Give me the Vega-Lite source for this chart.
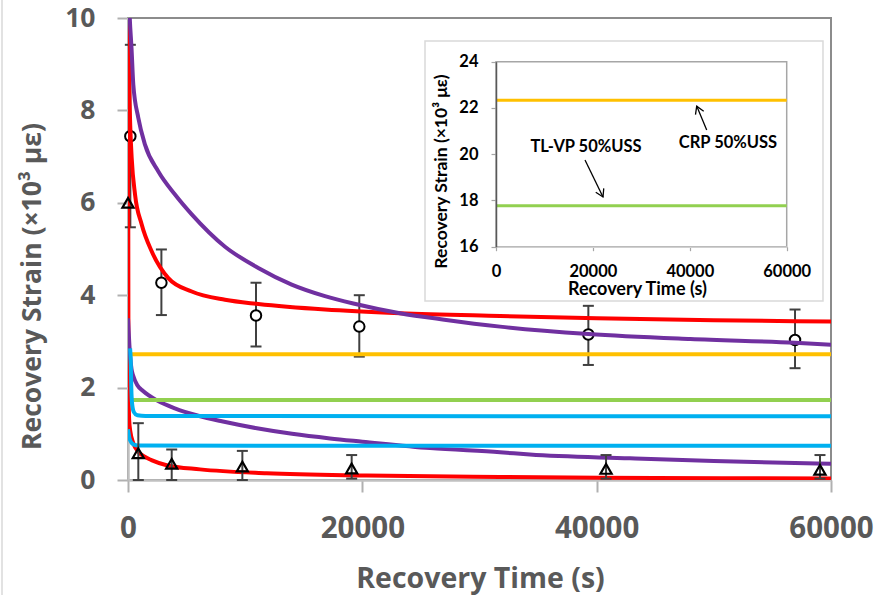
{
  "$schema": "https://vega.github.io/schema/vega-lite/v6.json",
  "width": 703,
  "height": 462,
  "autosize": "none",
  "padding": {"left": 128, "top": 18, "right": 60, "bottom": 115},
  "background": "white",
  "config": {
    "view": {"stroke": "#8c8c8c", "strokeWidth": 2},
    "font": "Open Sans"
  },
  "datasets": {
    "curves": [
      {"series": "Fit A (circles)", "t": 0, "v": 10.6},
      {"series": "Fit A (circles)", "t": 100, "v": 8.6},
      {"series": "Fit A (circles)", "t": 200, "v": 7.6},
      {"series": "Fit A (circles)", "t": 315, "v": 6.97},
      {"series": "Fit A (circles)", "t": 600, "v": 6.18},
      {"series": "Fit A (circles)", "t": 1170, "v": 5.53},
      {"series": "Fit A (circles)", "t": 2020, "v": 4.95},
      {"series": "Fit A (circles)", "t": 3440, "v": 4.37},
      {"series": "Fit A (circles)", "t": 5440, "v": 4.08},
      {"series": "Fit A (circles)", "t": 8280, "v": 3.9},
      {"series": "Fit A (circles)", "t": 11120, "v": 3.81},
      {"series": "Fit A (circles)", "t": 16810, "v": 3.69},
      {"series": "Fit A (circles)", "t": 23210, "v": 3.61},
      {"series": "Fit A (circles)", "t": 31760, "v": 3.55},
      {"series": "Fit A (circles)", "t": 40000, "v": 3.5},
      {"series": "Fit A (circles)", "t": 50000, "v": 3.46},
      {"series": "Fit A (circles)", "t": 60000, "v": 3.43},

      {"series": "Fit A (triangles)", "t": 0, "v": 10.6},
      {"series": "Fit A (triangles)", "t": 40, "v": 2.0},
      {"series": "Fit A (triangles)", "t": 100, "v": 1.3},
      {"series": "Fit A (triangles)", "t": 200, "v": 1.05},
      {"series": "Fit A (triangles)", "t": 450, "v": 0.8},
      {"series": "Fit A (triangles)", "t": 880, "v": 0.61},
      {"series": "Fit A (triangles)", "t": 1310, "v": 0.52},
      {"series": "Fit A (triangles)", "t": 2000, "v": 0.43},
      {"series": "Fit A (triangles)", "t": 3300, "v": 0.32},
      {"series": "Fit A (triangles)", "t": 6145, "v": 0.23},
      {"series": "Fit A (triangles)", "t": 11840, "v": 0.145},
      {"series": "Fit A (triangles)", "t": 20370, "v": 0.095},
      {"series": "Fit A (triangles)", "t": 31760, "v": 0.065},
      {"series": "Fit A (triangles)", "t": 45000, "v": 0.045},
      {"series": "Fit A (triangles)", "t": 60000, "v": 0.03},

      {"series": "Fit B (circles)", "t": 60, "v": 10.6},
      {"series": "Fit B (circles)", "t": 150, "v": 10.0},
      {"series": "Fit B (circles)", "t": 300, "v": 9.35},
      {"series": "Fit B (circles)", "t": 453, "v": 8.56},
      {"series": "Fit B (circles)", "t": 880, "v": 7.84},
      {"series": "Fit B (circles)", "t": 1450, "v": 7.26},
      {"series": "Fit B (circles)", "t": 2590, "v": 6.68},
      {"series": "Fit B (circles)", "t": 4010, "v": 6.18},
      {"series": "Fit B (circles)", "t": 5440, "v": 5.75},
      {"series": "Fit B (circles)", "t": 8280, "v": 5.05},
      {"series": "Fit B (circles)", "t": 11120, "v": 4.59},
      {"series": "Fit B (circles)", "t": 13970, "v": 4.23},
      {"series": "Fit B (circles)", "t": 16810, "v": 3.98},
      {"series": "Fit B (circles)", "t": 19230, "v": 3.82},
      {"series": "Fit B (circles)", "t": 23210, "v": 3.61},
      {"series": "Fit B (circles)", "t": 27000, "v": 3.47},
      {"series": "Fit B (circles)", "t": 31760, "v": 3.32},
      {"series": "Fit B (circles)", "t": 39290, "v": 3.16},
      {"series": "Fit B (circles)", "t": 48000, "v": 3.05},
      {"series": "Fit B (circles)", "t": 56930, "v": 2.97},
      {"series": "Fit B (circles)", "t": 60000, "v": 2.93},

      {"series": "Fit B (triangles)", "t": 0, "v": 3.5},
      {"series": "Fit B (triangles)", "t": 150, "v": 2.8},
      {"series": "Fit B (triangles)", "t": 300, "v": 2.4},
      {"series": "Fit B (triangles)", "t": 453, "v": 2.25},
      {"series": "Fit B (triangles)", "t": 800, "v": 2.05},
      {"series": "Fit B (triangles)", "t": 1310, "v": 1.92},
      {"series": "Fit B (triangles)", "t": 2500, "v": 1.72},
      {"series": "Fit B (triangles)", "t": 4000, "v": 1.55},
      {"series": "Fit B (triangles)", "t": 6000, "v": 1.39},
      {"series": "Fit B (triangles)", "t": 8000, "v": 1.27},
      {"series": "Fit B (triangles)", "t": 11000, "v": 1.12},
      {"series": "Fit B (triangles)", "t": 14000, "v": 1.0},
      {"series": "Fit B (triangles)", "t": 17240, "v": 0.9},
      {"series": "Fit B (triangles)", "t": 20000, "v": 0.83},
      {"series": "Fit B (triangles)", "t": 25780, "v": 0.69},
      {"series": "Fit B (triangles)", "t": 31760, "v": 0.6},
      {"series": "Fit B (triangles)", "t": 34300, "v": 0.55},
      {"series": "Fit B (triangles)", "t": 42850, "v": 0.47},
      {"series": "Fit B (triangles)", "t": 50000, "v": 0.41},
      {"series": "Fit B (triangles)", "t": 60000, "v": 0.35},

      {"series": "CRP 50%USS", "t": 250, "v": 2.72},
      {"series": "CRP 50%USS", "t": 60000, "v": 2.72},

      {"series": "TL-VP 50%USS", "t": 300, "v": 1.73},
      {"series": "TL-VP 50%USS", "t": 60000, "v": 1.73},

      {"series": "Fit C (upper)", "t": 180, "v": 2.85},
      {"series": "Fit C (upper)", "t": 230, "v": 2.6},
      {"series": "Fit C (upper)", "t": 280, "v": 2.0},
      {"series": "Fit C (upper)", "t": 350, "v": 1.65},
      {"series": "Fit C (upper)", "t": 500, "v": 1.47},
      {"series": "Fit C (upper)", "t": 800, "v": 1.4},
      {"series": "Fit C (upper)", "t": 1500, "v": 1.385},
      {"series": "Fit C (upper)", "t": 60000, "v": 1.38},

      {"series": "Fit C (lower)", "t": 0, "v": 1.1},
      {"series": "Fit C (lower)", "t": 150, "v": 0.88},
      {"series": "Fit C (lower)", "t": 450, "v": 0.77},
      {"series": "Fit C (lower)", "t": 900, "v": 0.745},
      {"series": "Fit C (lower)", "t": 60000, "v": 0.74}
    ],
    "circles": [
      {"t": 200, "v": 7.44, "lo": 5.47, "hi": 9.42},
      {"t": 2850, "v": 4.27, "lo": 3.57, "hi": 4.99},
      {"t": 10925, "v": 3.56, "lo": 2.89, "hi": 4.27},
      {"t": 19740, "v": 3.32, "lo": 2.67, "hi": 4.0},
      {"t": 39290, "v": 3.15, "lo": 2.49, "hi": 3.77},
      {"t": 56930, "v": 3.03, "lo": 2.42, "hi": 3.69}
    ],
    "triangles": [
      {"t": 0, "v": 6.0, "lo": null, "hi": null},
      {"t": 880, "v": 0.58, "lo": 0.0, "hi": 1.23},
      {"t": 3730, "v": 0.35, "lo": 0.0, "hi": 0.66},
      {"t": 9760, "v": 0.29, "lo": 0.0, "hi": 0.63},
      {"t": 19090, "v": 0.25, "lo": 0.03, "hi": 0.54},
      {"t": 40800, "v": 0.24, "lo": 0.03, "hi": 0.54},
      {"t": 59060, "v": 0.22, "lo": 0.03, "hi": 0.54}
    ],
    "inset_lines": [
      {"series": "CRP 50%USS", "t": 0, "v": 22.33},
      {"series": "CRP 50%USS", "t": 60000, "v": 22.33},
      {"series": "TL-VP 50%USS", "t": 0, "v": 17.77},
      {"series": "TL-VP 50%USS", "t": 60000, "v": 17.77}
    ],
    "inset_box": [{"t": -14655, "t2": 67490, "v": 13.65, "v2": 24.9}],
    "inset_frame": [{"t": 0, "t2": 60000, "v": 16, "v2": 24}],
    "inset_labels": [
      {"label": "TL-VP 50%USS", "t": 18576, "v": 20.29},
      {"label": "CRP 50%USS", "t": 47885, "v": 20.48}
    ],
    "arrow_tlvp": [{"t": 18370, "v": 19.75, "t2": 22085, "v2": 18.15}],
    "arrow_crp": [{"t": 43488, "v": 21.05, "t2": 41424, "v2": 22.08}],
    "outer_border": [{"t": -10754, "v": -2.6, "v2": 10.5}]
  },
  "layer": [
    {
      "encoding": {
        "x": {
          "field": "t", "type": "quantitative",
          "scale": {"domain": [0, 60000], "nice": false},
          "axis": {
            "orient": "bottom", "values": [0, 20000, 40000, 60000], "format": "d",
            "title": "Recovery Time (s)", "grid": false,
            "domainColor": "#c0c0c0", "domainWidth": 2.5,
            "tickColor": "#b0b0b0", "tickWidth": 2, "tickSize": 12,
            "labelFont": "Open Sans", "labelFontWeight": "bold", "labelFontSize": 29.5,
            "labelColor": "#595959", "labelBaseline": "alphabetic", "labelPadding": 45,
            "labelFlush": false, "labelOverlap": false,
            "titleFont": "Open Sans", "titleFontWeight": "bold", "titleFontSize": 28.5,
            "titleColor": "#595959", "titleX": 352, "titleY": 107.5,
            "titleBaseline": "alphabetic", "titleAlign": "center"
          }
        },
        "y": {
          "field": "v", "type": "quantitative",
          "scale": {"domain": [0, 10], "nice": false},
          "axis": {
            "orient": "left", "values": [0, 2, 4, 6, 8, 10],
            "title": "Recovery Strain (×10³ με)", "grid": false,
            "domainColor": "#c0c0c0", "domainWidth": 2.5,
            "tickColor": "#b0b0b0", "tickWidth": 2, "tickSize": 11,
            "labelFont": "Open Sans", "labelFontWeight": "bold", "labelFontSize": 26.5,
            "labelColor": "#595959", "labelPadding": 22, "labelFlush": false,
            "titleFont": "Open Sans", "titleFontWeight": "bold", "titleFontSize": 26.5,
            "titleColor": "#595959", "titleX": -96, "titleY": 268,
            "titleBaseline": "middle", "titleAlign": "center", "titleAngle": 270
          }
        }
      },
      "layer": [
        {
          "data": {"name": "circles"},
          "mark": {"type": "rule", "color": "#404040", "strokeWidth": 2, "clip": true},
          "encoding": {
            "y": {"field": "lo", "type": "quantitative"},
            "y2": {"field": "hi"}
          }
        },
        {
          "data": {"name": "circles"},
          "mark": {"type": "tick", "orient": "horizontal", "size": 11, "thickness": 2, "color": "#404040", "opacity": 1},
          "encoding": {"y": {"field": "lo", "type": "quantitative"}}
        },
        {
          "data": {"name": "circles"},
          "mark": {"type": "tick", "orient": "horizontal", "size": 11, "thickness": 2, "color": "#404040", "opacity": 1},
          "encoding": {"y": {"field": "hi", "type": "quantitative"}}
        },
        {
          "data": {"name": "circles"},
          "mark": {"type": "point", "shape": "circle", "size": 110, "filled": true, "fill": "white", "stroke": "black", "strokeWidth": 2, "opacity": 1}
        },
        {
          "data": {"name": "curves"},
          "mark": {"type": "line", "clip": true, "strokeWidth": 4, "interpolate": "monotone"},
          "encoding": {
            "color": {
              "field": "series", "type": "nominal", "legend": null,
              "scale": {
                "domain": ["Fit A (circles)", "Fit A (triangles)", "Fit B (circles)", "Fit B (triangles)", "CRP 50%USS", "TL-VP 50%USS", "Fit C (upper)", "Fit C (lower)"],
                "range": ["#ff0000", "#ff0000", "#7030a0", "#7030a0", "#ffc000", "#92d050", "#00b0f0", "#00b0f0"]
              }
            },
            "detail": {"field": "series"},
            "order": {"field": "t", "type": "quantitative"}
          }
        },
        {
          "data": {"name": "triangles"},
          "transform": [{"filter": {"field": "hi", "valid": true}}],
          "mark": {"type": "rule", "color": "#404040", "strokeWidth": 2},
          "encoding": {
            "y": {"field": "lo", "type": "quantitative"},
            "y2": {"field": "hi"}
          }
        },
        {
          "data": {"name": "triangles"},
          "transform": [{"filter": {"field": "hi", "valid": true}}],
          "mark": {"type": "tick", "orient": "horizontal", "size": 11, "thickness": 2, "color": "#404040", "opacity": 1},
          "encoding": {"y": {"field": "lo", "type": "quantitative"}}
        },
        {
          "data": {"name": "triangles"},
          "transform": [{"filter": {"field": "hi", "valid": true}}],
          "mark": {"type": "tick", "orient": "horizontal", "size": 11, "thickness": 2, "color": "#404040", "opacity": 1},
          "encoding": {"y": {"field": "hi", "type": "quantitative"}}
        },
        {
          "data": {"name": "triangles"},
          "mark": {"type": "point", "shape": "triangle-up", "size": 125, "filled": false, "stroke": "black", "strokeWidth": 2.2, "opacity": 1}
        },
        {
          "data": {"name": "outer_border"},
          "mark": {"type": "rule", "color": "#d9d9d9", "strokeWidth": 1.5, "clip": false},
          "encoding": {"y2": {"field": "v2"}}
        }
      ]
    },
    {
      "encoding": {
        "x": {
          "field": "t", "type": "quantitative",
          "scale": {"domain": [0, 60000], "range": [368, 658.7], "nice": false},
          "axis": {
            "orient": "bottom", "offset": -233.3, "zindex": 1,
            "values": [0, 20000, 40000, 60000], "format": "d",
            "title": "Recovery Time (s)", "grid": false,
            "domainColor": "#d0d0d0", "domainWidth": 1.5,
            "tickColor": "#a6a6a6", "tickWidth": 1.2, "tickSize": 4,
            "labelFont": "Lato", "labelFontWeight": "bold", "labelFontSize": 16.5,
            "labelColor": "#000000", "labelBaseline": "alphabetic", "labelPadding": 25.5,
            "labelFlush": false, "labelOverlap": false,
            "titleFont": "Lato", "titleFontWeight": "bold", "titleFontSize": 18,
            "titleColor": "#000000", "titleX": 509, "titleY": 48,
            "titleBaseline": "alphabetic", "titleAlign": "center"
          }
        },
        "y": {
          "field": "v", "type": "quantitative",
          "scale": {"domain": [16, 24], "range": [228.7, 43.7], "nice": false, "zero": false},
          "axis": {
            "orient": "left", "offset": -368, "zindex": 1,
            "values": [16, 18, 20, 22, 24],
            "title": "Recovery Strain (×10³ με)", "grid": false,
            "domainColor": "#595959", "domainWidth": 1.5,
            "tickColor": "#a6a6a6", "tickWidth": 1.2, "tickSize": 5,
            "labelFont": "Lato", "labelFontWeight": "bold", "labelFontSize": 16.5,
            "labelColor": "#000000", "labelPadding": 13, "labelFlush": false,
            "titleFont": "Lato", "titleFontWeight": "bold", "titleFontSize": 17.5,
            "titleColor": "#000000", "titleX": -54.3, "titleY": 153,
            "titleBaseline": "middle", "titleAlign": "center", "titleAngle": 270
          }
        }
      },
      "layer": [
        {
          "data": {"name": "inset_box"},
          "mark": {"type": "rect", "fill": "white", "stroke": "#d9d9d9", "strokeWidth": 1.5},
          "encoding": {"x2": {"field": "t2"}, "y2": {"field": "v2"}}
        },
        {
          "data": {"name": "inset_frame"},
          "mark": {"type": "rect", "fill": null, "fillOpacity": 0, "stroke": "#a6a6a6", "strokeWidth": 1.5},
          "encoding": {"x2": {"field": "t2"}, "y2": {"field": "v2"}}
        },
        {
          "data": {"name": "inset_lines"},
          "mark": {"type": "line", "strokeWidth": 3},
          "encoding": {
            "color": {
              "field": "series", "type": "nominal", "legend": null,
              "scale": {"domain": ["CRP 50%USS", "TL-VP 50%USS"], "range": ["#ffc000", "#92d050"]}
            }
          }
        },
        {
          "data": {"name": "inset_labels"},
          "mark": {"type": "text", "font": "Lato", "fontWeight": "bold", "fontSize": 16.5, "color": "#000000", "align": "center", "baseline": "middle"},
          "encoding": {"text": {"field": "label"}}
        },
        {
          "data": {"name": "arrow_tlvp"},
          "mark": {"type": "rule", "color": "#000000", "strokeWidth": 1.3},
          "encoding": {"x2": {"field": "t2"}, "y2": {"field": "v2"}}
        },
        {
          "data": {"name": "arrow_crp"},
          "mark": {"type": "rule", "color": "#000000", "strokeWidth": 1.3},
          "encoding": {"x2": {"field": "t2"}, "y2": {"field": "v2"}}
        },
        {
          "data": {"name": "arrow_tlvp"},
          "mark": {"type": "point", "shape": "M-0.6,1L0,0L0.6,1", "size": 220, "filled": false, "stroke": "#000000", "strokeWidth": 1.3, "opacity": 1, "angle": 154},
          "encoding": {"x": {"field": "t2", "type": "quantitative"}, "y": {"field": "v2", "type": "quantitative"}}
        },
        {
          "data": {"name": "arrow_crp"},
          "mark": {"type": "point", "shape": "M-0.6,1L0,0L0.6,1", "size": 220, "filled": false, "stroke": "#000000", "strokeWidth": 1.3, "opacity": 1, "angle": 337},
          "encoding": {"x": {"field": "t2", "type": "quantitative"}, "y": {"field": "v2", "type": "quantitative"}}
        }
      ]
    }
  ],
  "resolve": {
    "scale": {"x": "independent", "y": "independent", "color": "independent"},
    "axis": {"x": "independent", "y": "independent"}
  }
}
